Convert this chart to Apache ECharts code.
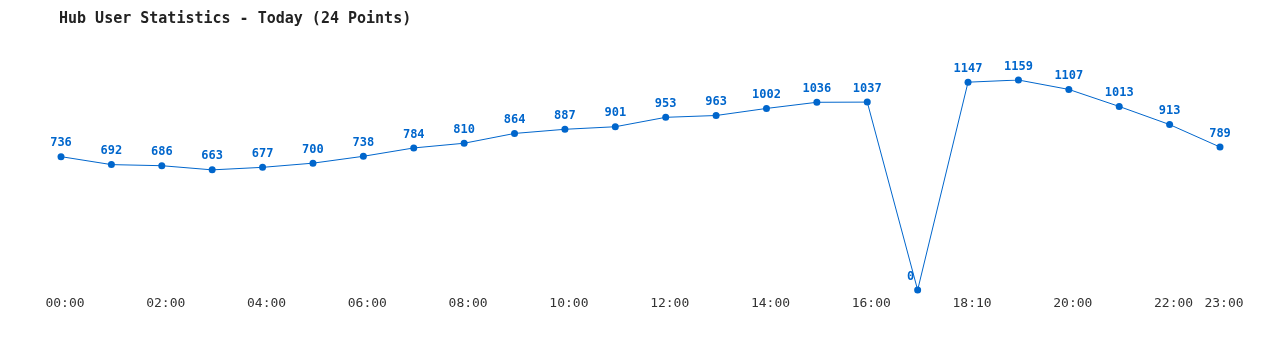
<!DOCTYPE html>
<html>
<head>
<meta charset="utf-8">
<script src="https://cdn.jsdelivr.net/npm/echarts@6/dist/echarts.min.js"></script>
<style>html,body{margin:0;padding:0;background:#fff;}#c{width:1280px;height:350px;}</style>
</head>
<body>
<div id="c"></div>
<script>
const titleText = "Hub User Statistics - Today (24 Points)";
const categories = ["00:00","01:00","02:00","03:00","04:00","05:00","06:00","07:00","08:00","09:00","10:00","11:00","12:00","13:00","14:00","15:00","16:00","17:00","18:10","19:00","20:00","21:00","22:00","23:00"];
const users = [736,692,686,663,677,700,738,784,810,864,887,901,953,963,1002,1036,1037,0,1147,1159,1107,1013,913,789];
const shownLabelIdx = [0,2,4,6,8,10,12,14,16,18,20,22,23];

const mono = "'DejaVu Sans Mono', 'Liberation Mono', monospace";
const chart = echarts.init(document.getElementById('c'), null, {renderer:'canvas'});
chart.setOption({
  animation:false,
  backgroundColor:'#fff',
  title:{text:titleText,left:54,top:7,textStyle:{fontFamily:mono,fontSize:15,fontWeight:'bold',color:'#222'}},
  grid:{left:61,right:60,top:80,bottom:60,containLabel:false},
  xAxis:{type:'category',data:categories,boundaryGap:false,
    axisLine:{show:false},axisTick:{show:false},splitLine:{show:false},
    axisLabel:{margin:7,fontFamily:mono,fontSize:13,color:'#333',padding:[0,0,0,8],
      interval:function(i){return shownLabelIdx.indexOf(i)>=0;}}},
  yAxis:{type:'value',min:0,max:1159,show:false,splitLine:{show:false}},
  series:[{type:'line',
    data:users.map(function(v){
      if(v===0){return {value:v,label:{offset:[-7,0]}};}
      return v;}),
    lineStyle:{color:'#0066cc',width:1},
    itemStyle:{color:'#0066cc'},
    symbol:'circle',symbolSize:7,
    label:{show:true,position:'top',distance:4,fontFamily:mono,fontSize:12,fontWeight:'bold',color:'#0066cc'}
  }]
});
</script>
</body>
</html>
